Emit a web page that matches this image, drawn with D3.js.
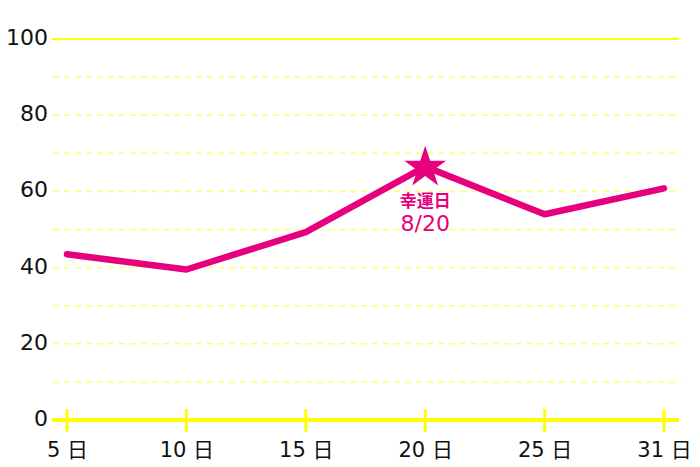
<!DOCTYPE html>
<html>
<head>
<meta charset="utf-8">
<script src="https://cdn.jsdelivr.net/npm/d3@7"></script>
<style>
    body { margin: 0; background: #fff; }
    svg text { font-family: "DejaVu Sans", "Noto Sans CJK JP", sans-serif; }
</style>
</head>
<body>
<svg id="chart"></svg>
<script>
const days = ['5 日', '10 日', '15 日', '20 日', '25 日', '31 日'];
const values = [43.5, 39.5, 49.3, 66.5, 54, 60.8];
const yTicks = [0, 20, 40, 60, 80, 100];
const gridTicks = [10, 20, 30, 40, 50, 60, 70, 80, 90];
const luckyDay = '20 日';
const luckyLabel = ['幸運日', '8/20'];

const width = 700, height = 467;
const margin = { top: 39, right: 21, bottom: 47, left: 52 };

const pink = '#e6007e';
const yellow = '#ffff00';

const svg = d3.select('#chart')
    .attr('width', width)
    .attr('height', height);

const xScale = d3.scalePoint()
    .domain(days)
    .range([67, 664]);

const yScale = d3.scaleLinear()
    .domain([0, 100])
    .range([420, 39]);

// dashed grid
svg.append('g')
    .selectAll('line')
    .data(gridTicks)
    .join('line')
    .attr('x1', margin.left + 1)
    .attr('x2', width - margin.right + 2)
    .attr('y1', d => yScale(d))
    .attr('y2', d => yScale(d))
    .attr('stroke', '#ffff66')
    .attr('stroke-width', 1.5)
    .attr('stroke-dasharray', '6,5');

// top solid line
svg.append('line')
    .attr('x1', margin.left)
    .attr('x2', width - margin.right)
    .attr('y1', yScale(100))
    .attr('y2', yScale(100))
    .attr('stroke', yellow)
    .attr('stroke-width', 2);

// y labels
svg.append('g')
    .selectAll('text')
    .data(yTicks)
    .join('text')
    .attr('x', 48)
    .attr('y', d => yScale(d) + 6)
    .attr('text-anchor', 'end')
    .attr('font-size', 22)
    .attr('fill', '#111')
    .text(d => d);

// x axis
const xAxis = d3.axisBottom(xScale)
    .tickSize(0)
    .tickPadding(0);

const xAxisG = svg.append('g')
    .attr('transform', `translate(0,${yScale(0)})`)
    .call(xAxis);

xAxisG.select('.domain').remove();
xAxisG.selectAll('text')
    .attr('y', 37)
    .attr('dy', 0)
    .attr('font-size', 21)
    .attr('fill', '#111');

svg.append('line')
    .attr('x1', margin.left)
    .attr('x2', width - margin.right)
    .attr('y1', yScale(0))
    .attr('y2', yScale(0))
    .attr('stroke', yellow)
    .attr('stroke-width', 4);

svg.append('g')
    .selectAll('line')
    .data(days)
    .join('line')
    .attr('x1', d => xScale(d))
    .attr('x2', d => xScale(d))
    .attr('y1', yScale(0) - 11)
    .attr('y2', yScale(0) + 12)
    .attr('stroke', yellow)
    .attr('stroke-width', 3);

// line
const line = d3.line()
    .x((d, i) => xScale(days[i]))
    .y(d => yScale(d));

svg.append('path')
    .datum(values)
    .attr('d', line)
    .attr('fill', 'none')
    .attr('stroke', pink)
    .attr('stroke-width', 6.5)
    .attr('stroke-linecap', 'round')
    .attr('stroke-linejoin', 'round');

// lucky day star
const idx = days.indexOf(luckyDay);
const sx = xScale(luckyDay);
const sy = yScale(values[idx]);

svg.append('path')
    .attr('d', d3.symbol().type(d3.symbolStar).size(540)())
    .attr('transform', `translate(${sx},${sy + 1})`)
    .attr('fill', pink);

svg.append('g')
    .selectAll('text')
    .data(luckyLabel)
    .join('text')
    .attr('x', sx)
    .attr('y', (d, i) => sy + 40 + i * 24)
    .attr('text-anchor', 'middle')
    .attr('font-size', (d, i) => i === 0 ? 17 : 22)
    .attr('font-weight', (d, i) => i === 0 ? 'bold' : 'normal')
    .attr('fill', pink)
    .text(d => d);
</script>
</body>
</html>
